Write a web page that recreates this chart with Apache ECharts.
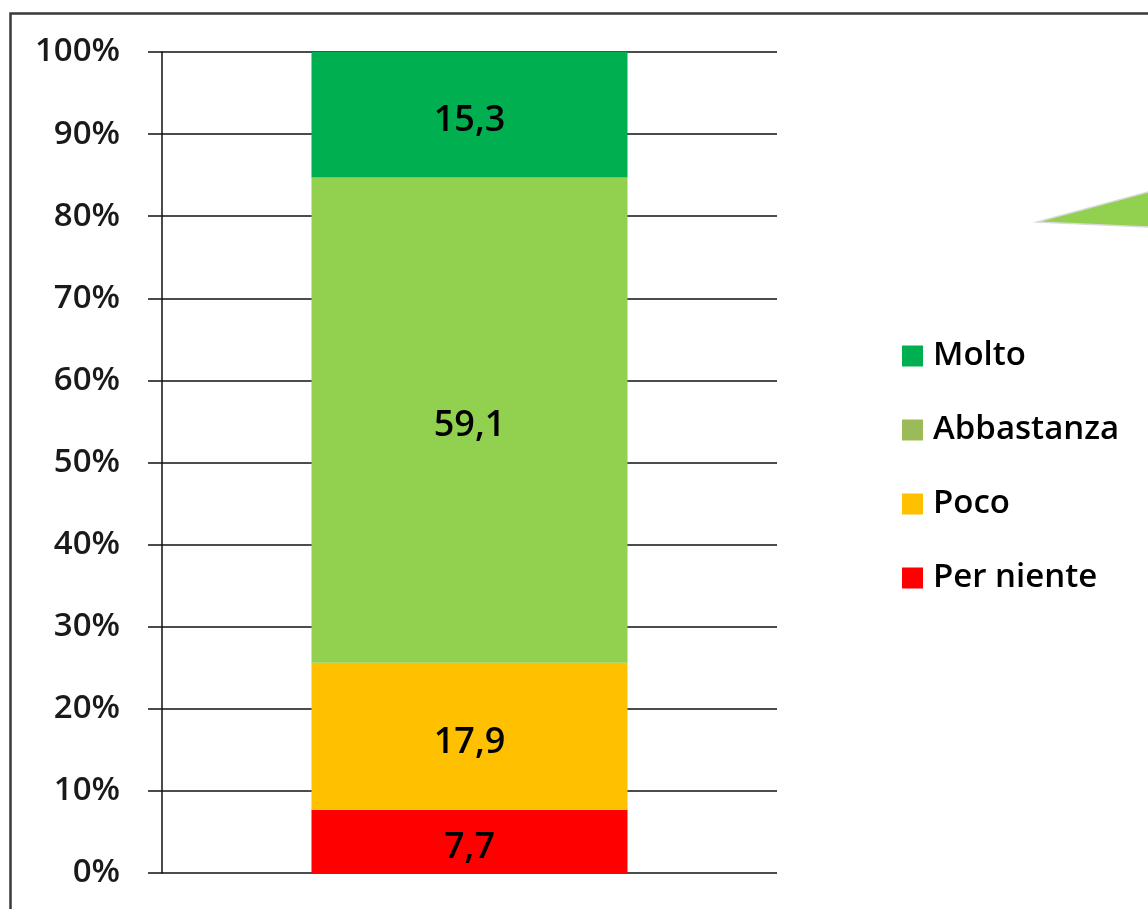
<!DOCTYPE html>
<html>
<head>
<meta charset="utf-8">
<script src="https://cdn.jsdelivr.net/npm/echarts@6/dist/echarts.min.js"></script>
<style>
  html, body { margin: 0; padding: 0; background: #fff; }
  #chart { width: 1148px; height: 909px; }
</style>
</head>
<body>
<div id="chart"></div>
<script>
// Stacked 100% bar: answer shares (percent)
const categories = [''];
const seriesNames = ['Per niente', 'Poco', 'Abbastanza', 'Molto'];
const perNiente = [7.7];
const poco = [17.9];
const abbastanza = [59.1];
const molto = [15.3];
const legendOrder = ['Molto', 'Abbastanza', 'Poco', 'Per niente'];
const yTicks = { min: 0, max: 100, step: 10 };

const colors = {
  'Per niente': '#FF0000',
  'Poco': '#FFC000',
  'Abbastanza': '#92D050',
  'Molto': '#00B050'
};
const legendColors = {
  'Per niente': '#FF0000',
  'Poco': '#FFC000',
  'Abbastanza': '#9BBB59',
  'Molto': '#00B050'
};
const values = {
  'Per niente': perNiente,
  'Poco': poco,
  'Abbastanza': abbastanza,
  'Molto': molto
};

const FONT = '"Open Sans", "Liberation Sans", sans-serif';

const chart = echarts.init(document.getElementById('chart'), null, { renderer: 'canvas' });

const series = seriesNames.map(name => ({
  name,
  type: 'bar',
  stack: 'total',
  barWidth: 316,
  data: values[name],
  itemStyle: { color: colors[name] },
  label: {
    show: true,
    position: 'inside',
    offset: [0, 6],
    color: '#000',
    fontFamily: FONT,
    fontWeight: 600,
    fontSize: 36,
    formatter: p => String(p.value).replace('.', ',')
  },
  emphasis: { disabled: true }
}));

chart.setOption({
  animation: false,
  backgroundColor: '#fff',
  grid: { left: 162, right: 371, top: 52, bottom: 36, containLabel: false },
  xAxis: {
    type: 'category',
    data: categories,
    axisLine: { show: false },
    axisTick: { show: false },
    axisLabel: { show: false },
    splitLine: { show: false }
  },
  yAxis: {
    type: 'value',
    min: yTicks.min,
    max: yTicks.max,
    interval: yTicks.step,
    axisLine: { show: true, lineStyle: { color: '#111', width: 1.5 } },
    axisTick: { show: true, inside: false, length: 14, lineStyle: { color: '#111', width: 1.5 } },
    axisLabel: {
      margin: 42,
      color: '#1a1a1a',
      fontFamily: FONT,
      fontWeight: 600,
      fontSize: 33,
      formatter: '{value}%'
    },
    splitLine: { show: true, lineStyle: { color: '#111', width: 1.5 } }
  },
  legend: {
    orient: 'vertical',
    left: 897,
    top: 334,
    itemWidth: 21,
    itemHeight: 21,
    itemGap: 40,
    icon: 'rect',
    selectedMode: false,
    data: legendOrder.map(n => ({ name: n, itemStyle: { color: legendColors[n] } })),
    textStyle: {
      color: '#000',
      fontFamily: FONT,
      fontWeight: 600,
      fontSize: 33,
      lineHeight: 34,
      padding: [0, 0, 0, 5]
    }
  },
  graphic: [
    {
      type: 'rect',
      shape: { x: 10.5, y: 13.5, width: 1200, height: 1000 },
      style: { fill: 'none', stroke: '#3a3a3a', lineWidth: 2.5 },
      silent: true,
      z: 100
    },
    {
      type: 'polygon',
      shape: { points: [[1037, 222], [1150, 191.5], [1150, 227]] },
      style: { fill: '#92D050', stroke: '#d9d9d9', lineWidth: 1.5 },
      silent: true
    }
  ],
  series
});
</script>
</body>
</html>
